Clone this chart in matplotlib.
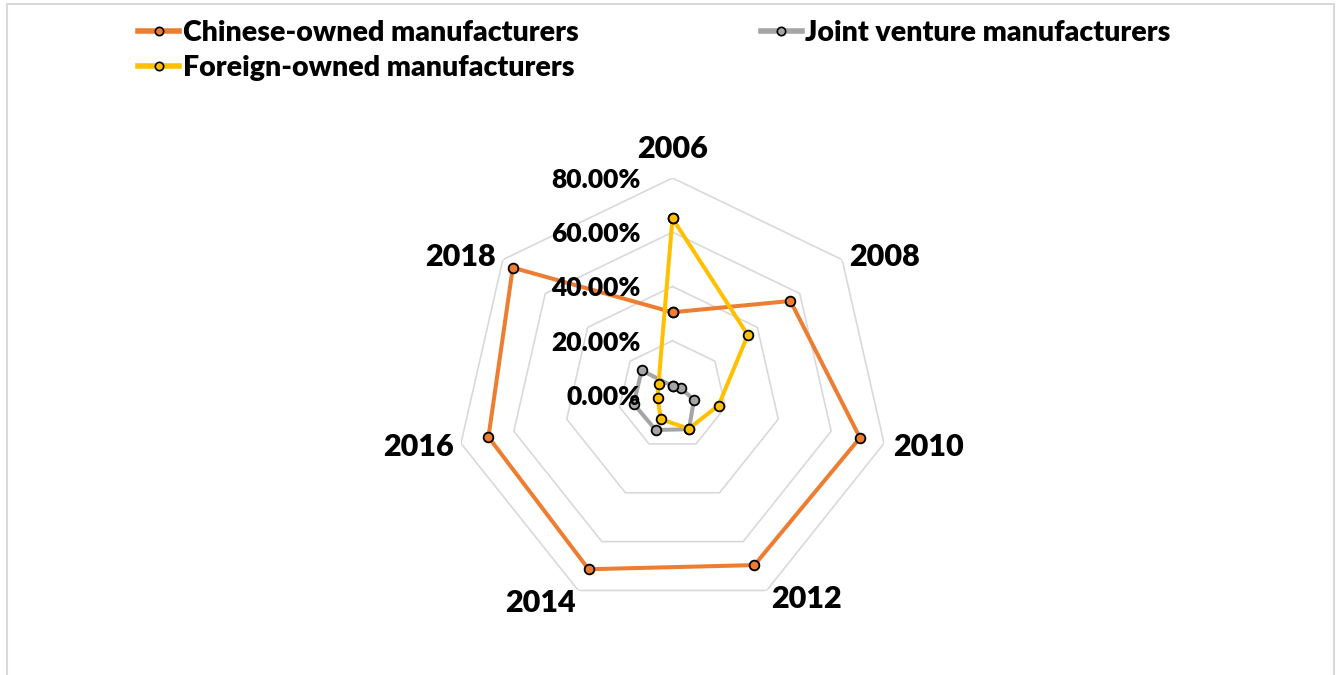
import numpy as np
import matplotlib
matplotlib.use("Agg")
import matplotlib.pyplot as plt
from matplotlib.lines import Line2D
from matplotlib.patches import Rectangle

plt.rcParams['font.family'] = ['Lato', 'DejaVu Sans']

# ---- data ----
years = ["2006", "2008", "2010", "2012", "2014", "2016", "2018"]
chinese_owned = [30.5, 55.6, 70.9, 69.6, 71.3, 69.6, 75.3]
joint_venture = [3.3, 4.0, 8.1, 14.0, 14.3, 14.7, 14.5]
foreign_owned = [65.1, 35.5, 17.4, 13.8, 9.9, 5.6, 6.6]
series_names = ["Chinese-owned manufacturers", "Joint venture manufacturers",
                "Foreign-owned manufacturers"]
radial_ticks = [0, 20, 40, 60, 80]
radial_labels = ["0.00%", "20.00%", "40.00%", "60.00%", "80.00%"]

colors = ["#ED7D31", "#A5A5A5", "#FFC000"]
WEIGHT = "heavy"

W, H = 1343, 675
fig = plt.figure(figsize=(W / 100, H / 100), dpi=100)

# chart border
fig.patches.append(Rectangle((7 / W, -0.01), (1334 - 7) / W, (H - 4) / H + 0.01,
                             transform=fig.transFigure, fill=False,
                             edgecolor="#D9D9D9", linewidth=1.5))

cx, cy, R = 672.5, 395.0, 217.0
ax = fig.add_axes([(cx - R) / W, (H - cy - R) / H, 2 * R / W, 2 * R / H],
                  projection="polar")
ax.set_theta_offset(np.pi / 2)
ax.set_theta_direction(-1)
ax.set_ylim(0, 80)
ax.grid(False)
ax.spines["polar"].set_visible(False)
ax.set_xticks([])
ax.set_yticks([])
ax.patch.set_alpha(0)

n = len(years)
theta = np.arange(n) * 2 * np.pi / n
theta_c = np.append(theta, theta[0])

# grid polygons
for t in radial_ticks[1:]:
    ax.plot(theta_c, [t] * (n + 1), color="#D9D9D9", lw=1.2, zorder=1)

# series
for vals, col in zip([chinese_owned, joint_venture, foreign_owned], colors):
    v = np.append(vals, vals[0])
    ax.plot(theta_c, v, color=col, lw=2.9, zorder=3,
            marker="o", markersize=7, markerfacecolor=col,
            markeredgecolor="black", markeredgewidth=1.3)

# radial labels
for t, lab in zip(radial_ticks, radial_labels):
    ax.annotate(lab, xy=(0, t), xytext=(-32, 0), textcoords="offset pixels",
                ha="right", va="center_baseline", fontsize=19,
                fontweight=WEIGHT, color="black", annotation_clip=False,
                zorder=5)

# category labels (pixel centres measured around chart centre)
label_offsets = [(0, 248), (212, 140), (256, -49), (134, -202),
                 (-132, -205), (-254, -49), (-212, 140)]
for yr, (dx, dy) in zip(years, label_offsets):
    ax.text(0.5 + dx / (2 * R), 0.5 + dy / (2 * R), yr, transform=ax.transAxes,
            ha="center", va="center_baseline", fontsize=22, fontweight=WEIGHT,
            color="black")

# legend
handles = [Line2D([0], [0], color=c, lw=4, marker="o", markersize=6,
                  markerfacecolor=c, markeredgecolor="black",
                  markeredgewidth=1.2) for c in colors]
order = [0, 2, 1]
fig.legend([handles[i] for i in order], [series_names[i] for i in order],
           ncol=2, loc="upper left", bbox_to_anchor=(138 / W, 1 - 20 / H),
           frameon=False, handlelength=1.45, handletextpad=0.12,
           columnspacing=6.4, labelspacing=0.3, borderpad=0,
           borderaxespad=0, prop={"weight": WEIGHT, "size": 20.5})

fig.savefig("out.png", dpi=100)
